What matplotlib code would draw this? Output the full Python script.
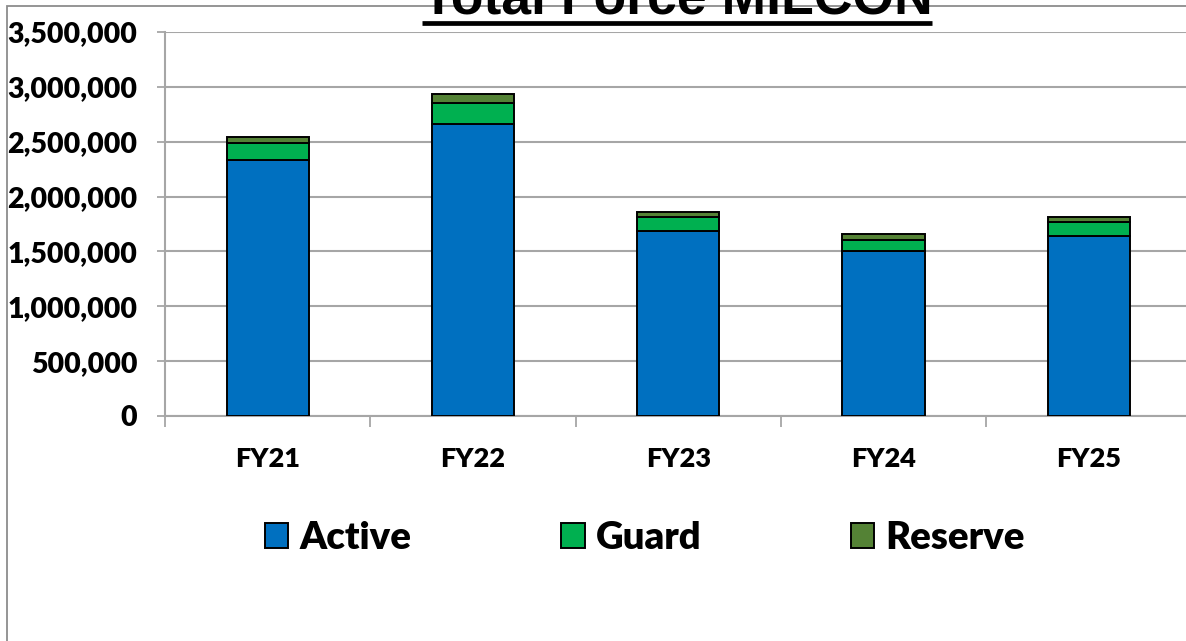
import matplotlib
matplotlib.use("Agg")
import matplotlib.pyplot as plt
from matplotlib.lines import Line2D
from matplotlib.patches import Rectangle
from matplotlib.ticker import FuncFormatter, MultipleLocator, FixedLocator
import numpy as np

categories = ["FY21", "FY22", "FY23", "FY24", "FY25"]
active = [2333000, 2661000, 1689000, 1507000, 1641000]
guard = [158000, 195000, 122000, 97000, 124000]
reserve = [55000, 76000, 51000, 52000, 52000]
series_names = ["Active", "Guard", "Reserve"]
colors = ["#0070C0", "#00B050", "#548235"]

W, H = 1186, 641
fig = plt.figure(figsize=(W / 100, H / 100), dpi=100)
fig.patch.set_facecolor("white")

# chart-area border
fig.patches.append(Rectangle((7 / W, -0.1), 1.2, 1 - 6 / H + 0.1, transform=fig.transFigure,
                             fill=False, edgecolor="#8c8c8c", lw=1.3, zorder=0))

ax = fig.add_axes([165 / W, 1 - 416 / H, (1191.5 - 165) / W, (416 - 32) / H])
ax.set_facecolor("none")

x = np.arange(len(categories))
bottom = np.zeros(len(categories))
handles = []
for vals, name, c in zip([active, guard, reserve], series_names, colors):
    b = ax.bar(x, vals, width=0.4, bottom=bottom, color=c, edgecolor="black",
               linewidth=1.4, label=name, zorder=3)
    bottom += np.array(vals)
    handles.append(b)

ax.set_xlim(-0.5, len(categories) - 0.5)
ax.set_ylim(0, 3500000)
ax.yaxis.set_major_locator(MultipleLocator(500000))
ax.yaxis.set_major_formatter(FuncFormatter(lambda v, p: f"{int(v):,}"))
ax.grid(axis="y", color="#a6a6a6", lw=1.5, zorder=0)
ax.set_axisbelow(True)

for s in ["top", "right"]:
    ax.spines[s].set_visible(False)
for s in ["left", "bottom"]:
    ax.spines[s].set_color("#a6a6a6")
    ax.spines[s].set_linewidth(1.5)

tick_font = dict(family="Lato", weight="heavy", size=19.5)
ax.set_xticks(x)
ax.set_xticklabels(categories, **tick_font)
ax.xaxis.set_minor_locator(FixedLocator(np.arange(-0.5, len(categories), 1.0)))
ax.tick_params(axis="x", which="major", length=0, pad=22)
ax.tick_params(axis="x", which="minor", length=8, width=1.3, color="#a6a6a6", direction="out")
ax.tick_params(axis="y", which="major", length=6, width=1.3, color="#a6a6a6", pad=14)
for lab in ax.get_yticklabels():
    lab.set_fontfamily("Lato")
    lab.set_fontweight("heavy")
    lab.set_fontsize(20.5)

leg = fig.legend(handles=handles, labels=series_names, loc="center",
                 bbox_to_anchor=(645 / W, 1 - 538 / H), ncol=3, frameon=False,
                 prop=dict(family="Lato", weight="heavy", size=27.5),
                 handlelength=0.62, handleheight=0.62, handletextpad=0.3,
                 columnspacing=3.9)

title = fig.text(677 / W, 1 - 14 / H, "Total Force MILCON", ha="center", va="baseline",
                 family="Liberation Sans", weight="bold", size=38.5, zorder=5)
fig.canvas.draw()
bb = title.get_window_extent()
uy = (H - 22.5) / H
fig.add_artist(Line2D([bb.x0 / W, bb.x1 / W], [uy, uy], transform=fig.transFigure,
                      color="black", lw=3.4, solid_capstyle="butt", zorder=5))

fig.savefig("out.png", dpi=100, facecolor="white")
